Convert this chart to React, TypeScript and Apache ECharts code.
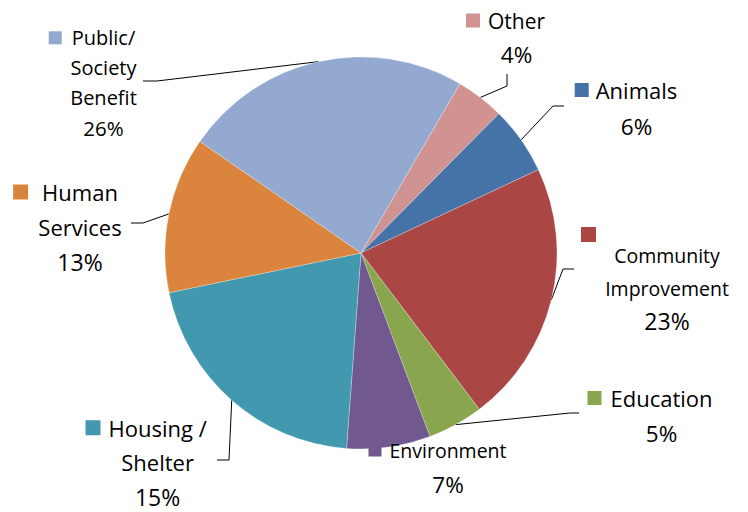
import React, { useEffect, useRef } from 'react';
import * as echarts from 'echarts';

// ---- data ----
const categories = [
  'Other',
  'Animals',
  'Community Improvement',
  'Education',
  'Environment',
  'Housing / Shelter',
  'Human Services',
  'Public/ Society Benefit',
];
const nameLines = [
  ['Other'],
  ['Animals'],
  ['Community', 'Improvement'],
  ['Education'],
  ['Environment'],
  ['Housing /', 'Shelter'],
  ['Human', 'Services'],
  ['Public/', 'Society', 'Benefit'],
];
// slice sizes as drawn (share of the circle, %)
const values = [4.0, 5.6, 21.7, 4.6, 6.9, 20.6, 12.9, 23.8];
// percentages as printed on the chart
const pctLabels = ['4%', '6%', '23%', '5%', '7%', '15%', '13%', '26%'];
const colors = ['#D19392', '#4572A7', '#AA4643', '#89A54E', '#71588F', '#4198AF', '#DB843D', '#93A9CF'];

// ---- layout ----
const CX = 361;
const CY = 253;
const R = 196;
const FIRST_ANGLE = 30.3; // degrees clockwise from 12 o'clock where the first slice begins
const FONT = 'Open Sans';

type Box = {
  cx: number; top: number; fs: number; pfs: number; lh: number; sq: number; gap: number;
  sqLine?: boolean; sqLh?: number; bal?: number;
  elbow?: [number, number]; end?: [number, number];
};
const labelBoxes: Box[] = [
  { cx: 516.5, top: 3.5, fs: 21, pfs: 22.5, lh: 34, sq: 14, gap: 8, elbow: [507, 86], end: [507, 74] },
  { cx: 636.5, top: 72, fs: 22, pfs: 22.5, lh: 36, sq: 14, gap: 7, elbow: [553, 106], end: [564, 106] },
  { cx: 667, top: 230.5, fs: 19.5, pfs: 23, lh: 33, sq: 15, gap: 0, sqLine: true, sqLh: 8, bal: 157, elbow: [563, 269], end: [574, 269] },
  { cx: 661.5, top: 380.5, fs: 22, pfs: 22.5, lh: 35, sq: 14, gap: 9, elbow: [570, 413], end: [579, 413] },
  { cx: 448, top: 433, fs: 19.5, pfs: 22.5, lh: 34, sq: 13, gap: 8 },
  { cx: 157.6, top: 410.5, fs: 22, pfs: 23, lh: 34.5, sq: 15, gap: 8, elbow: [229, 460], end: [217, 460] },
  { cx: 80, top: 174.5, fs: 22, pfs: 23, lh: 35, sq: 15, gap: 14, elbow: [143, 223], end: [131, 223] },
  { cx: 103.5, top: 22.8, fs: 20, pfs: 20.5, lh: 30, sq: 13, gap: 10, elbow: [157, 81], end: [143, 81] },
];

function buildOption() {
  const total = values.reduce((a, b) => a + b, 0);
  let acc = 0;
  const midPoints = values.map((v) => {
    const m = ((FIRST_ANGLE + ((acc + v / 2) / total) * 360) * Math.PI) / 180;
    acc += v;
    return [CX + R * Math.sin(m), CY - R * Math.cos(m)];
  });

  const data = values.map((v, i) => {
    const b = labelBoxes[i];
    const t = (s: string) => `{t|${s}}`;
    const pct = `{p|${pctLabels[i]}}`;
    let lines: string[];
    if (b.sqLine) {
      lines = ['{sq|}{bal|}', ...nameLines[i].map(t), pct];
    } else {
      lines = [
        `{sq|}{gap|}${t(nameLines[i][0])}{bal|}`,
        ...nameLines[i].slice(1).map(t),
        pct,
      ];
    }
    const sqLh = b.sqLine ? (b.sqLh as number) : b.lh;
    return {
      value: v,
      name: categories[i],
      itemStyle: { color: colors[i] },
      labelLine: { show: !!b.elbow },
      label: {
        formatter: lines.join('\n'),
        lineHeight: b.lh,
        rich: {
          t: { fontFamily: FONT, fontSize: b.fs, lineHeight: b.lh, color: '#000' },
          p: { fontFamily: FONT, fontSize: b.pfs, lineHeight: b.lh, color: '#000' },
          sq: { width: b.sq, height: b.sq, backgroundColor: colors[i], lineHeight: sqLh },
          gap: { width: b.gap, lineHeight: b.lh },
          bal: { width: b.sqLine ? b.bal : b.sq + b.gap, lineHeight: sqLh },
        },
      },
    };
  });

  return {
    animation: false,
    backgroundColor: '#ffffff',
    series: [
      {
        type: 'pie',
        center: [CX, CY],
        radius: R,
        startAngle: 90 - FIRST_ANGLE,
        clockwise: true,
        avoidLabelOverlap: false,
        silent: true,
        itemStyle: { borderColor: 'rgba(255,255,255,0.45)', borderWidth: 0.6 },
        data,
        label: {
          show: true,
          position: 'outside',
          align: 'center',
          color: '#000',
          fontFamily: FONT,
        },
        labelLine: {
          show: true,
          length: 10,
          length2: 10,
          smooth: false,
          lineStyle: { color: '#000', width: 1 },
        },
        labelLayout: (p: any) => {
          const i = p.dataIndex;
          const b = labelBoxes[i];
          const out: any = { x: b.cx, y: b.top, align: 'center', verticalAlign: 'top' };
          if (b.elbow && b.end) {
            out.labelLinePoints = [midPoints[i], b.elbow, b.end];
          }
          return out;
        },
      },
    ],
  };
}

export default function App() {
  const ref = useRef<HTMLDivElement>(null);
  useEffect(() => {
    if (!ref.current) return;
    const chart = echarts.init(ref.current, undefined, { renderer: 'svg' });
    chart.setOption(buildOption() as any);
    return () => chart.dispose();
  }, []);
  return (
    <div
      ref={ref}
      style={{ position: 'absolute', left: 0, top: 0, width: 748, height: 512, background: '#fff' }}
    />
  );
}
